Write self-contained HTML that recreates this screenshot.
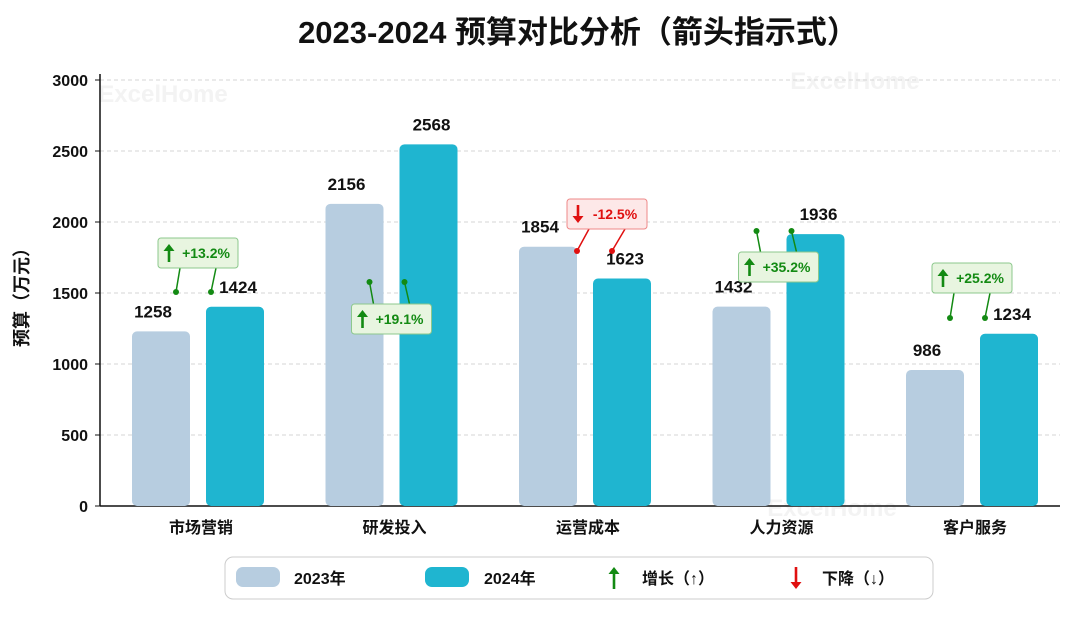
<!DOCTYPE html>
<html><head><meta charset="utf-8">
<style>
body{margin:0;background:#fff;}
svg text{font-family:"Liberation Sans","Noto Sans CJK SC",sans-serif;}
</style></head>
<body>
<svg id="chart" width="1080" height="612" viewBox="0 0 1080 612" xmlns="http://www.w3.org/2000/svg">
<text x="578" y="43" text-anchor="middle" font-size="31" font-weight="bold" fill="#111">2023-2024 预算对比分析（箭头指示式）</text>
<text x="163" y="102" text-anchor="middle" font-size="24" font-weight="bold" fill="#f3f3f3">ExcelHome</text>
<text x="855" y="89" text-anchor="middle" font-size="24" font-weight="bold" fill="#f3f3f3">ExcelHome</text>
<text x="832" y="516" text-anchor="middle" font-size="24" font-weight="bold" fill="#f3f3f3">ExcelHome</text>
<text transform="translate(28,293) rotate(-90)" text-anchor="middle" font-size="18" font-weight="bold" fill="#111">预算（万元）</text>
<g id="grid"></g><g id="bars"></g><g id="ann"></g>
<g id="legend">
<rect x="225" y="557" width="708" height="42" rx="8" fill="#fff" stroke="#ccc"/>
<rect x="236" y="567" width="44" height="20" rx="7" fill="#b7cde0"/>
<text x="294" y="584" font-size="16" font-weight="bold" fill="#111">2023年</text>
<rect x="425" y="567" width="44" height="20" rx="7" fill="#1fb5d0"/>
<text x="484" y="584" font-size="16" font-weight="bold" fill="#111">2024年</text>
<text x="642" y="584" font-size="16" font-weight="bold" fill="#111">增长（↑）</text>
<text x="822" y="584" font-size="16" font-weight="bold" fill="#111">下降（↓）</text>
</g>
</svg>
<script>
const categories=["市场营销","研发投入","运营成本","人力资源","客户服务"];
const values2023=[1258,2156,1854,1432,986];
const values2024=[1424,2568,1623,1936,1234];
const yTicks=[0,500,1000,1500,2000,2500,3000];
const annBoxY=[253,319,214,267,278];
const annDotY=[292,282,251,231,318];
const NS="http://www.w3.org/2000/svg";
const x0=100,x1=1060,yBase=506,yTop=80,yMax=3000;
function y(v){return yBase-(v/yMax)*(yBase-yTop);}
function cx(i){return 198+i*193.5;}
function mk(tag,attrs,parent,txt){const e=document.createElementNS(NS,tag);for(const k in attrs)e.setAttribute(k,attrs[k]);if(txt!==undefined)e.textContent=txt;parent.appendChild(e);return e;}
function arrow(parent,x,yc,up,col,h){
  const g=mk('g',{},parent);
  const hh=h/2, s=up?-1:1;
  mk('line',{x1:x,y1:yc-s*hh,x2:x,y2:yc+s*(hh-6),stroke:col,'stroke-width':2.6},g);
  mk('path',{d:`M${x-5.5},${yc+s*(hh-7)} L${x+5.5},${yc+s*(hh-7)} L${x},${yc+s*hh} Z`,fill:col},g);
  return g;
}
const grid=document.getElementById('grid'),bars=document.getElementById('bars'),ann=document.getElementById('ann'),leg=document.getElementById('legend');
const la1=arrow(leg,614,578,true,'#138a13',22);


const la2=arrow(leg,796,578,false,'#e01010',22);


yTicks.forEach(t=>{
  if(t>0){const l=mk('line',{x1:x0,x2:x1,y1:y(t),y2:y(t),stroke:'#d5d5d5','stroke-dasharray':'4,3'},grid);
  
  }
  const tk=mk('line',{x1:x0-5,x2:x0,y1:y(t),y2:y(t),stroke:'#111'},grid);
  
  
  const tx=mk('text',{x:x0-12,y:y(t)+6,'text-anchor':'end','font-size':16,'font-weight':'bold',fill:'#111'},grid,t);
  
  
});
const ya=mk('line',{x1:x0,x2:x0,y1:yTop-6,y2:yBase,stroke:'#111','stroke-width':1.5},grid);


const xa=mk('line',{x1:x0,x2:x1,y1:yBase,y2:yBase,stroke:'#111','stroke-width':1.5},grid);


categories.forEach((c,i)=>{
  const c0=cx(i);
  const t1=y(values2023[i])+4, t2=y(values2024[i])+3;
  const b1=mk('rect',{x:c0-66,y:t1,width:58,height:yBase-t1,rx:5,fill:'#b7cde0'},bars);
  
  
  const b2=mk('rect',{x:c0+8,y:t2,width:58,height:yBase-t2,rx:5,fill:'#1fb5d0'},bars);
  
  
  const l1=mk('text',{x:c0-45,y:t1-14,'text-anchor':'middle','font-size':17,'font-weight':'bold',fill:'#111'},bars,values2023[i]);
  
  
  const l2=mk('text',{x:c0+40,y:t2-14,'text-anchor':'middle','font-size':17,'font-weight':'bold',fill:'#111'},bars,values2024[i]);
  
  
  const xl=mk('text',{x:c0+3,y:533,'text-anchor':'middle','font-size':16,'font-weight':'bold',fill:'#111'},bars,c);
  
  
  const pct=(values2024[i]-values2023[i])/values2023[i]*100;
  const up=pct>=0, col=up?'#138a13':'#e01010', bg=up?'#e8f5e0':'#fde8e8', bd=up?'#8cc88c':'#e88';
  const by=annBoxY[i], dy=annDotY[i], bx=c0+(i===2?22:0);
  const d1=c0+(i===2?-8:-22), d2=c0+(i===2?27:13);
  const g=mk('g',{},ann);
  
  
  const edge=dy>by?by+15:by-15;
  mk('line',{x1:d1,y1:dy,x2:bx-18,y2:edge,stroke:col,'stroke-width':1.5},g);
  mk('line',{x1:d2,y1:dy,x2:bx+18,y2:edge,stroke:col,'stroke-width':1.5},g);
  mk('circle',{cx:d1,cy:dy,r:3,fill:col},g);
  mk('circle',{cx:d2,cy:dy,r:3,fill:col},g);
  mk('rect',{x:bx-40,y:by-15,width:80,height:30,rx:3,fill:bg,stroke:bd},g);
  arrow(g,bx-29,by,up,col,18);
  mk('text',{x:bx+8,y:by+5,'text-anchor':'middle','font-size':14,'font-weight':'bold',fill:col},g,(up?'+':'')+pct.toFixed(1)+'%');
});
</script>
</body></html>
